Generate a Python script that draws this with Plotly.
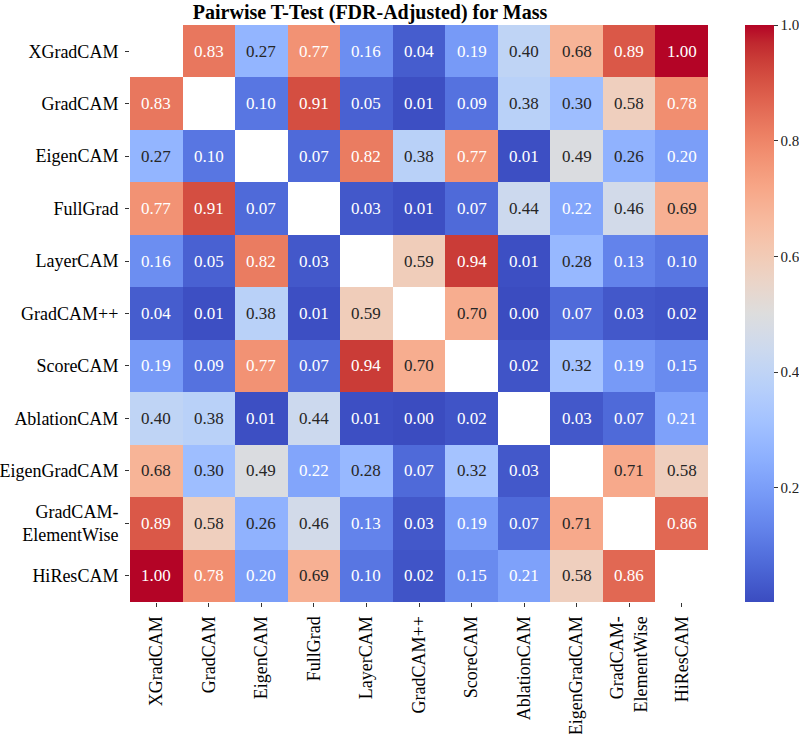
import plotly.graph_objects as go

methods = ["XGradCAM", "GradCAM", "EigenCAM", "FullGrad", "LayerCAM", "GradCAM++",
           "ScoreCAM", "AblationCAM", "EigenGradCAM", "GradCAM-ElementWise", "HiResCAM"]
labels = ["XGradCAM", "GradCAM", "EigenCAM", "FullGrad", "LayerCAM", "GradCAM++",
          "ScoreCAM", "AblationCAM", "EigenGradCAM", "GradCAM-<br>ElementWise", "HiResCAM"]

row_xgradcam = [None, 0.83, 0.27, 0.77, 0.16, 0.04, 0.19, 0.40, 0.68, 0.89, 1.00]
row_gradcam = [0.83, None, 0.10, 0.91, 0.05, 0.01, 0.09, 0.38, 0.30, 0.58, 0.78]
row_eigencam = [0.27, 0.10, None, 0.07, 0.82, 0.38, 0.77, 0.01, 0.49, 0.26, 0.20]
row_fullgrad = [0.77, 0.91, 0.07, None, 0.03, 0.01, 0.07, 0.44, 0.22, 0.46, 0.69]
row_layercam = [0.16, 0.05, 0.82, 0.03, None, 0.59, 0.94, 0.01, 0.28, 0.13, 0.10]
row_gradcampp = [0.04, 0.01, 0.38, 0.01, 0.59, None, 0.70, 0.003, 0.07, 0.03, 0.02]
row_scorecam = [0.19, 0.09, 0.77, 0.07, 0.94, 0.70, None, 0.02, 0.32, 0.19, 0.15]
row_ablationcam = [0.40, 0.38, 0.01, 0.44, 0.01, 0.003, 0.02, None, 0.03, 0.07, 0.21]
row_eigengradcam = [0.68, 0.30, 0.49, 0.22, 0.28, 0.07, 0.32, 0.03, None, 0.71, 0.58]
row_elementwise = [0.89, 0.58, 0.26, 0.46, 0.13, 0.03, 0.19, 0.07, 0.71, None, 0.86]
row_hirescam = [1.00, 0.78, 0.20, 0.69, 0.10, 0.02, 0.15, 0.21, 0.58, 0.86, None]

z = [row_xgradcam, row_gradcam, row_eigencam, row_fullgrad, row_layercam, row_gradcampp,
     row_scorecam, row_ablationcam, row_eigengradcam, row_elementwise, row_hirescam]

cbar_ticks = [0.2, 0.4, 0.6, 0.8, 1.0]

cw = [(59,76,192),(68,90,204),(77,104,215),(87,117,225),(98,130,234),(108,142,241),
      (119,154,247),(130,165,251),(141,176,254),(152,185,255),(163,194,255),(174,201,253),
      (184,208,249),(194,213,244),(204,217,238),(213,219,230),(221,221,221),(229,216,209),
      (236,211,197),(241,204,184),(245,196,172),(247,187,160),(247,177,148),(247,166,135),
      (244,154,123),(241,141,111),(236,127,99),(229,112,89),(222,96,77),(213,80,66),
      (203,62,56),(192,40,47),(180,4,38)]
n = len(cw) - 1
colorscale = [[i / n, "rgb(%d,%d,%d)" % c] for i, c in enumerate(cw)]

vals = [v for r in z for v in r if v is not None]
zmin, zmax = min(vals), max(vals)

def cmap(v):
    t = (v - zmin) / (zmax - zmin)
    t = min(max(t, 0), 1) * n
    i = min(int(t), n - 1)
    f = t - i
    return tuple(cw[i][k] + (cw[i + 1][k] - cw[i][k]) * f for k in range(3))

def lum(c):
    out = []
    for ch in c:
        ch = ch / 255
        out.append(ch / 12.92 if ch <= 0.03928 else ((ch + 0.055) / 1.055) ** 2.4)
    return 0.2126 * out[0] + 0.7152 * out[1] + 0.0722 * out[2]

font = "Liberation Serif, Times New Roman, serif"

fig = go.Figure(go.Heatmap(
    z=z, x=methods, y=methods, colorscale=colorscale, zmin=zmin, zmax=zmax,
    xgap=0, ygap=0, hoverongaps=False,
    colorbar=dict(x=(745 - 130) / 578, xanchor="left", xpad=0, y=1, yanchor="top", ypad=0,
                  len=1, lenmode="fraction",
                  thickness=29, outlinewidth=0, ticks="outside", ticklen=4, tickcolor="#333",
                  tickvals=cbar_ticks, ticktext=["%.1f" % t for t in cbar_ticks],
                  tickfont=dict(family=font, size=15, color="#222")),
))

annotations = []
for i, r in enumerate(z):
    for j, v in enumerate(r):
        if v is None:
            continue
        col = "#262626" if lum(cmap(v)) > 0.408 else "white"
        annotations.append(dict(x=methods[j], y=methods[i], text="%.2f" % v, showarrow=False,
                                font=dict(family=font, size=17, color=col)))

fig.update_layout(
    width=799, height=734,
    margin=dict(l=130, r=91, t=25, b=132, autoexpand=False),
    paper_bgcolor="white", plot_bgcolor="white",
    title=dict(text="<b>Pairwise T-Test (FDR-Adjusted) for Mass</b>", x=370 / 799, xanchor="center",
               xref="container", yref="container", y=1 - 5 / 734, yanchor="top",
               font=dict(family=font, size=20, color="black")),
    annotations=annotations,
    font=dict(family=font, size=17, color="black"),
)
fig.update_xaxes(tickvals=methods, ticktext=labels, tickangle=-90, ticks="outside", ticklen=4,
                 tickcolor="#333", showgrid=False, zeroline=False, showline=False,
                 ticklabelstandoff=2,
                 tickfont=dict(family=font, size=18, color="black"))
fig.update_yaxes(tickvals=methods, ticktext=labels, autorange="reversed", ticks="outside", ticklen=4,
                 tickcolor="#333", showgrid=False, zeroline=False, showline=False,
                 ticklabelstandoff=3,
                 tickfont=dict(family=font, size=18, color="black"))

fig.write_html("out.html")
